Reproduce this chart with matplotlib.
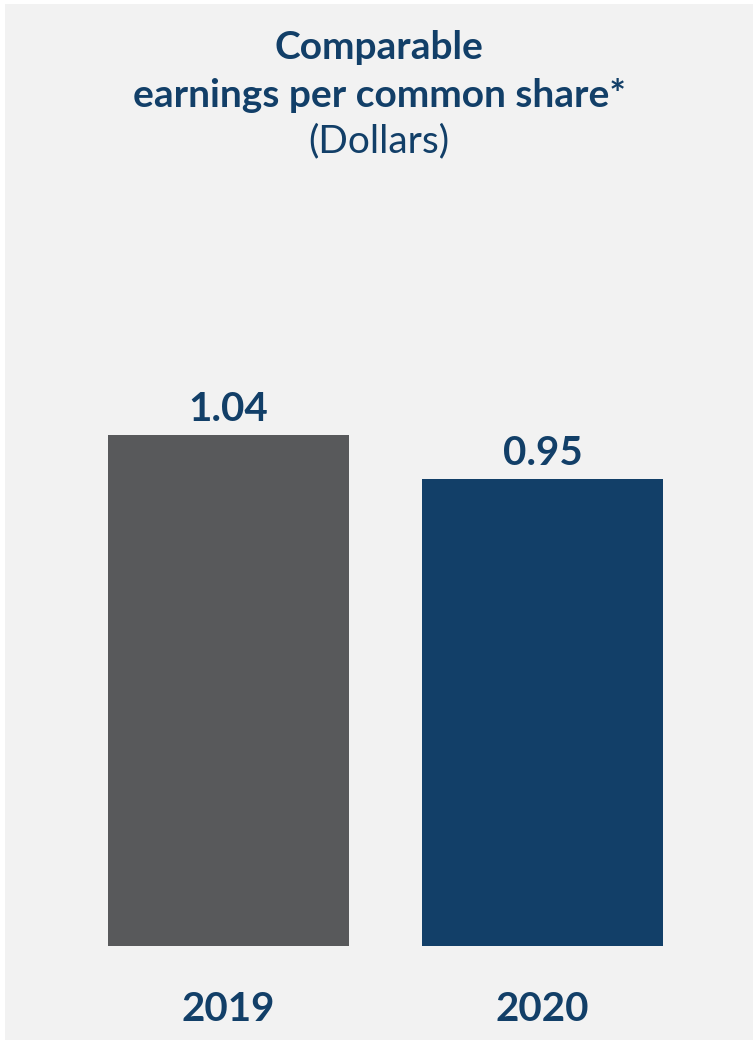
import matplotlib.pyplot as plt

years = ["2019", "2020"]
eps = [1.04, 0.95]
bar_colors = ["#58595b", "#123f68"]

title_color = "#123f68"
bg = "#f2f2f2"

plt.rcParams['font.family'] = ['Lato', 'DejaVu Sans']

fig = plt.figure(figsize=(7.53, 10.40), dpi=100, facecolor="white")
ax = fig.add_axes([5 / 753, 0, 748 / 753, 1036 / 1040])
ax.set_facecolor(bg)

x = list(range(len(years)))
ax.bar(x, eps, width=0.7675, color=bar_colors)

# value labels above bars
for xi, v in zip(x, eps):
    ax.text(xi, v + 0.014, f"{v:.2f}", ha="center", va="bottom",
            fontsize=29, fontweight="bold", color=title_color)

# year labels below bars
for xi, yr in zip(x, years):
    ax.text(xi, -0.128, yr, ha="center", va="center",
            fontsize=29, fontweight="bold", color=title_color)

ax.set_xlim(-0.712, 1.670)
ax.set_ylim(-0.191, 1.917)
for s in ax.spines.values():
    s.set_visible(False)
ax.set_xticks([])
ax.set_yticks([])

# title block
ax.text(0.5, 0.958, "Comparable", transform=ax.transAxes, ha="center",
        va="center", fontsize=28, fontweight="bold", color=title_color)
ax.text(0.5, 0.912, "earnings per common share*", transform=ax.transAxes,
        ha="center", va="center", fontsize=28, fontweight="bold",
        color=title_color)
ax.text(0.5, 0.867, "(Dollars)", transform=ax.transAxes, ha="center",
        va="center", fontsize=28, color=title_color)

fig.savefig("out.png", dpi=100, facecolor=fig.get_facecolor())
